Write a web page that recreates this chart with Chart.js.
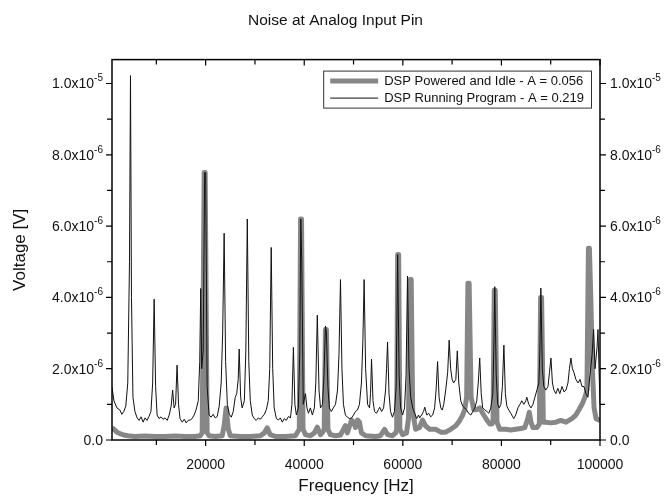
<!DOCTYPE html>
<html lang="en">
<head>
<meta charset="UTF-8">
<title>Noise at Analog Input Pin</title>
<script src="https://cdn.jsdelivr.net/npm/chart.js"></script>
<style>
  html, body { margin: 0; padding: 0; background: #fff; }
  #wrap { width: 671px; height: 497px; }
</style>
</head>
<body>
<div id="wrap"><canvas id="chart" width="671" height="497"></canvas></div>
<script>
// values: frequency in Hz, voltage in units of 1e-6 V
const idleFreq = [1000, 1400, 2000, 2600, 3400, 4200, 5650, 7700, 9750, 11750, 13800, 15850, 17850, 18900,
  19300, 19700, 19900, 20300, 20700, 21950, 23350, 23750, 24150, 24600, 25000, 27000, 29050, 31100, 31900,
  32500, 33100, 34150, 36150, 38200, 39000, 39250, 39450, 39750, 40250, 41250, 42050, 42650, 43300, 43900,
  44050, 44300, 44500, 44800, 45300, 46350, 47350, 47950, 48350, 48750, 49200, 49600, 50000, 50400, 50800,
  51200, 51600, 52450, 54450, 55450, 56300, 56900, 57900, 58550, 58750, 58950, 59150, 59400, 59950, 60750,
  61150, 61450, 61700, 62000, 62600, 63400, 64000, 64600, 65450, 66650, 67700, 68700, 69700, 70750, 71550,
  72150, 72550, 72950, 73200, 73450, 73850, 74400, 75000, 75600, 76200, 77050, 77650, 78050, 78300, 78550,
  78750, 79100, 79650, 80900, 81900, 82900, 83950, 84750, 85350, 85650, 86000, 86400, 87200, 87700, 87950,
  88150, 88500, 89000, 90050, 91050, 92050, 93100, 93700, 94300, 95100, 95700, 96350, 96950, 97350, 97650,
  97850, 98150, 98450, 98800, 99200, 100000];
const idleVolt = [0.34, 0.30, 0.22, 0.18, 0.14, 0.12, 0.10, 0.11, 0.10, 0.10, 0.11, 0.10, 0.10, 0.12,
  0.2, 7.5, 7.5, 0.2, 0.12, 0.10, 0.12, 0.4, 0.9, 0.3, 0.12, 0.10, 0.10, 0.12, 0.20,
  0.34, 0.15, 0.10, 0.10, 0.12, 0.3, 6.2, 6.2, 0.3, 0.15, 0.12, 0.2, 0.36, 0.15, 0.25,
  0.3, 3.1, 3.1, 0.3, 0.15, 0.12, 0.14, 0.3, 0.4, 0.2, 0.4, 0.56, 0.5, 0.35, 0.56,
  0.5, 0.2, 0.12, 0.10, 0.12, 0.3, 0.15, 0.12, 0.2, 0.3, 5.2, 5.2, 0.3, 0.15, 0.2,
  0.6, 4.5, 4.5, 0.8, 0.3, 0.35, 0.56, 0.4, 0.3, 0.3, 0.22, 0.22, 0.3, 0.4, 0.55,
  0.7, 0.85, 1.2, 4.4, 4.4, 1.2, 0.85, 0.85, 0.9, 0.75, 0.56, 0.45, 0.45, 0.5, 4.2,
  4.2, 0.5, 0.3, 0.3, 0.28, 0.3, 0.32, 0.35, 0.6, 0.78, 0.5, 0.35, 0.35, 0.45, 4.0,
  4.0, 0.5, 0.5, 0.48, 0.5, 0.55, 0.5, 0.55, 0.6, 0.7, 0.84, 1.0, 1.2, 1.4, 5.38,
  5.38, 3.9, 2.0, 0.9, 0.6, 0.55];

const runFreq = [1000, 1400, 2000, 2600, 3000, 3400, 3800, 4200, 4550, 4750, 4950, 5250, 5650, 6100, 6500,
  6900, 7300, 7700, 8100, 8500, 8900, 9250, 9550, 9850, 10150, 10550, 10950, 11350, 11750, 12200, 12600,
  13000, 13300, 13600, 13900, 14200, 14500, 14800, 15250, 15650, 16050, 16450, 16850, 17250, 17650, 18050,
  18500, 18800, 19000, 19200, 19500, 19800, 20000, 20300, 20700, 21100, 21500, 21950, 22350, 22750, 23150,
  23450, 23750, 24050, 24400, 24800, 25200, 25600, 26000, 26300, 26600, 26800, 27100, 27400, 27850, 28150,
  28450, 28750, 29050, 29450, 29850, 30250, 30700, 31100, 31500, 31900, 32300, 32700, 33000, 33300, 33600,
  33900, 34350, 34750, 35150, 35550, 35950, 36350, 36800, 37200, 37500, 37800, 38100, 38400, 38800, 39100,
  39300, 39500, 39800, 40250, 40550, 40850, 41250, 41650, 42050, 42350, 42650, 43000, 43300, 43700, 44000,
  44300, 44500, 44800, 45100, 45500, 45900, 46350, 46750, 47050, 47350, 47650, 47950, 48350, 48750, 49200,
  49600, 50000, 50400, 50800, 51200, 51600, 51900, 52150, 52450, 52850, 53250, 53450, 53650, 53950, 54250,
  54650, 55050, 55300, 55700, 56100, 56500, 56700, 56900, 57200, 57500, 57900, 58300, 58650, 58950, 59250,
  59550, 59950, 60350, 60650, 60950, 61250, 61600, 62000, 62400, 62800, 63200, 63400, 63800, 64200, 64450,
  64850, 65250, 65650, 66050, 66450, 66750, 67050, 67350, 67700, 68000, 68300, 68700, 69100, 69400, 69700,
  70000, 70300, 70750, 71050, 71350, 71750, 72150, 72550, 72950, 73350, 73800, 74200, 74600, 75000, 75300,
  75600, 75900, 76200, 76600, 77050, 77450, 77850, 78250, 78450, 78650, 78950, 79250, 79550, 79900, 80200,
  80500, 80800, 81100, 81500, 81900, 82300, 82500, 82900, 83350, 83750, 84150, 84550, 84950, 85150, 85550,
  86000, 86400, 86800, 87200, 87600, 87800, 88000, 88300, 88600, 89000, 89450, 89750, 90050, 90350, 90650,
  91050, 91450, 91850, 92300, 92700, 93100, 93500, 93800, 94100, 94400, 94700, 95100, 95550, 95950, 96350,
  96750, 97150, 97550, 97950, 98400, 98700, 99000, 99400, 99600, 99800, 100000];
const runVolt = [1.48, 1.1, 0.9, 0.84, 0.72, 0.8, 0.95, 1.6, 5.0, 10.22, 4.0, 1.2, 0.8, 0.62, 0.55,
  0.65, 0.5, 0.62, 0.55, 0.66, 0.8, 1.6, 3.95, 1.5, 0.7, 0.6, 0.65, 0.58, 0.62, 0.55, 0.7,
  0.95, 1.4, 0.9, 1.0, 2.1, 1.0, 0.6, 0.5, 0.58, 0.48, 0.55, 0.56, 0.6, 0.7, 0.84,
  1.1, 2.2, 4.25, 2.0, 2.5, 7.5, 7.5, 1.5, 0.7, 0.64, 0.72, 0.62, 0.66, 0.95, 1.6,
  3.0, 5.8, 2.2, 1.0, 0.72, 0.64, 0.8, 1.2, 1.3, 1.7, 2.55, 1.2, 0.9, 1.1, 2.5,
  6.2, 2.2, 1.1, 0.7, 0.6, 0.55, 0.62, 0.58, 0.65, 0.72, 0.85, 1.1, 2.0, 5.4, 2.0,
  0.9, 0.6, 0.56, 0.62, 0.5, 0.6, 0.55, 0.66, 0.62, 1.0, 2.6, 1.0, 0.7, 0.9, 2.5,
  6.2, 5.0, 1.0, 1.3, 0.9, 0.75, 0.9, 0.7, 0.9, 1.6, 3.5, 1.4, 0.9, 1.0, 1.8,
  3.2, 3.0, 1.5, 0.9, 0.8, 0.9, 1.0, 1.4, 2.4, 4.5, 2.0, 1.0, 0.7, 0.64, 0.6,
  0.62, 0.7, 0.8, 0.84, 1.0, 1.6, 2.8, 4.5, 2.0, 1.0, 0.9, 1.3, 2.27, 1.1, 0.8,
  0.75, 0.85, 0.92, 0.8, 0.9, 1.4, 2.0, 2.75, 1.3, 0.8, 0.64, 0.8, 1.5, 5.2, 1.8,
  0.9, 0.7, 0.9, 1.8, 4.6, 2.0, 1.2, 0.9, 0.75, 0.6, 0.7, 0.62, 0.7, 0.8, 0.92,
  0.7, 0.75, 0.65, 0.7, 0.9, 1.4, 2.2, 1.2, 0.9, 0.84, 1.0, 1.4, 1.9, 2.8, 2.0,
  1.7, 1.6, 1.7, 2.5, 1.6, 1.1, 0.95, 0.9, 0.84, 0.75, 0.7, 0.8, 0.9, 1.1, 1.6,
  2.3, 1.3, 0.9, 0.85, 0.8, 0.75, 0.9, 1.3, 2.5, 4.3, 1.8, 1.0, 0.9, 1.0, 1.5,
  2.66, 1.3, 0.95, 0.84, 0.75, 0.65, 0.6, 0.7, 0.9, 1.0, 1.1, 1.0, 1.1, 1.2, 1.0,
  0.9, 1.0, 1.2, 1.4, 1.6, 2.5, 4.26, 2.0, 1.5, 1.4, 1.5, 1.9, 2.3, 1.6, 1.4,
  1.3, 1.45, 1.3, 1.5, 1.35, 1.4, 1.6, 2.0, 2.3, 2.0, 1.9, 1.7, 1.6, 1.7, 1.5,
  1.5, 1.3, 1.2, 1.8, 2.4, 3.1, 2.0, 2.6, 3.1, 2.0, 1.0];

const seriesNames = ['DSP Powered and Idle - A = 0.056', 'DSP Running Program - A = 0.219'];

const xTickValues = [20000, 40000, 60000, 80000, 100000];
const xMinorValues = [10000, 30000, 50000, 70000, 90000];
const yTickValues = [0, 2, 4, 6, 8, 10];
// tick label = mantissa text followed by a raised exponent
const yTickBase = ['0.0', '2.0x10', '4.0x10', '6.0x10', '8.0x10', '1.0x10'];
const yTickExp = ['', '-6', '-6', '-6', '-6', '-5'];
const yMinorValues = [1, 3, 5, 7, 9];

const FONT = '"Liberation Sans", Arial, sans-serif';
const GRAY = '#878787';

function pairs(xs, ys) {
  return xs.map((x, i) => ({ x: x, y: ys[i] }));
}

// frame with ticks on all four sides, plus the y labels with superscripts
const framePlugin = {
  id: 'frame',
  afterDatasetsDraw(chart) {
    const { ctx, chartArea: a, scales } = chart;
    const x = scales.x, y = scales.y;
    ctx.save();
    ctx.strokeStyle = '#000';
    ctx.lineWidth = 1.5;
    ctx.strokeRect(a.left, a.top, a.right - a.left, a.bottom - a.top);
    ctx.lineWidth = 1.2;
    ctx.beginPath();
    const xt = (vals, len) => vals.forEach(v => {
      const p = x.getPixelForValue(v);
      ctx.moveTo(p, a.bottom); ctx.lineTo(p, a.bottom + len);
      ctx.moveTo(p, a.top); ctx.lineTo(p, a.top + len);
    });
    const yt = (vals, len) => vals.forEach(v => {
      const p = y.getPixelForValue(v);
      ctx.moveTo(a.left - len, p); ctx.lineTo(a.left, p);
      ctx.moveTo(a.right, p); ctx.lineTo(a.right + len, p);
    });
    xt(xTickValues, 6); xt(xMinorValues, 5);
    yt(yTickValues, 6); yt(yMinorValues, 5);
    ctx.stroke();

    ctx.fillStyle = '#111';
    ctx.textBaseline = 'alphabetic';
    yTickValues.forEach((v, i) => {
      const p = y.getPixelForValue(v) + 5;
      ctx.font = '14px ' + FONT;
      const bw = ctx.measureText(yTickBase[i]).width;
      ctx.font = '10px ' + FONT;
      const ew = yTickExp[i] ? ctx.measureText(yTickExp[i]).width : 0;
      // left side, right aligned
      let lx = a.left - 9 - ew - bw;
      ctx.font = '14px ' + FONT;
      ctx.fillText(yTickBase[i], lx, p);
      ctx.font = '10px ' + FONT;
      if (ew) ctx.fillText(yTickExp[i], lx + bw, p - 7);
      // right side, left aligned
      const rx = a.right + 10;
      ctx.font = '14px ' + FONT;
      ctx.fillText(yTickBase[i], rx, p);
      ctx.font = '10px ' + FONT;
      if (ew) ctx.fillText(yTickExp[i], rx + bw, p - 7);
    });
    ctx.restore();
  }
};

// boxed legend inside the plot, top right
const boxLegend = {
  id: 'boxLegend',
  afterDraw(chart) {
    const { ctx, chartArea: a } = chart;
    ctx.save();
    ctx.font = '13px ' + FONT;
    const ds = chart.data.datasets;
    const textW = Math.max(...ds.map(d => ctx.measureText(d.label).width));
    const sample = 48, gap = 6, pad = 7, row = 17;
    const w = pad + sample + gap + textW + pad;
    const h = row * ds.length + 3;
    const bx = a.right - 9 - w, by = a.top + 11;
    ctx.fillStyle = '#fff';
    ctx.fillRect(bx, by, w, h);
    ctx.strokeStyle = '#333';
    ctx.lineWidth = 1;
    ctx.strokeRect(bx + 0.5, by + 0.5, w, h);
    ds.forEach((d, i) => {
      const cy = by + 2 + row * i + row / 2;
      ctx.strokeStyle = d.borderColor;
      ctx.lineWidth = d.borderWidth;
      ctx.lineCap = 'butt';
      ctx.beginPath();
      ctx.moveTo(bx + pad, cy); ctx.lineTo(bx + pad + sample, cy);
      ctx.stroke();
      ctx.fillStyle = '#111';
      ctx.textBaseline = 'middle';
      ctx.fillText(d.label, bx + pad + sample + gap, cy);
    });
    ctx.restore();
  }
};

const tickFont = { family: FONT, size: 14 };
const titleFont = { family: FONT, size: 17 };

function yTicks(scale) {
  scale.ticks = yTickValues.map(v => ({ value: v }));
}

new Chart(document.getElementById('chart'), {
  type: 'line',
  data: {
    datasets: [
      {
        label: seriesNames[0],
        data: pairs(idleFreq, idleVolt),
        borderColor: GRAY,
        borderWidth: 5,
        borderJoinStyle: 'round',
        pointRadius: 0,
        tension: 0,
        order: 2
      },
      {
        label: seriesNames[1],
        data: pairs(runFreq, runVolt),
        borderColor: '#111',
        borderWidth: 1,
        pointRadius: 0,
        tension: 0,
        order: 1
      }
    ]
  },
  options: {
    responsive: false,
    animation: false,
    layout: { padding: 0 },
    plugins: {
      legend: { display: false },
      tooltip: { enabled: false },
      title: {
        display: true,
        text: 'Noise at Analog Input Pin',
        color: '#111',
        font: { family: FONT, size: 15.5, weight: 'normal' },
        padding: { top: 11, bottom: 30 }
      }
    },
    scales: {
      x: {
        type: 'linear',
        min: 1000,
        max: 100000,
        afterBuildTicks(scale) { scale.ticks = xTickValues.map(v => ({ value: v })); },
        afterFit(scale) { scale.height = 57; },
        grid: { display: false },
        border: { display: false },
        ticks: { font: tickFont, color: '#111', padding: 9, maxRotation: 0, autoSkip: false,
                 callback: v => String(v) },
        title: { display: true, text: 'Frequency [Hz]', color: '#111', font: titleFont, padding: 0 }
      },
      y: {
        position: 'left',
        min: 0,
        max: 10.67,
        afterBuildTicks: yTicks,
        afterFit(scale) { scale.width = 112; },
        grid: { display: false },
        border: { display: false },
        ticks: { display: false },
        title: { display: true, text: 'Voltage [V]', color: '#111', font: titleFont, padding: { top: 10, bottom: 0 } }
      },
      y2: {
        position: 'right',
        min: 0,
        max: 10.67,
        afterBuildTicks: yTicks,
        afterFit(scale) { scale.width = 71; },
        grid: { display: false },
        border: { display: false },
        ticks: { display: false }
      }
    }
  },
  plugins: [framePlugin, boxLegend]
});
</script>
</body>
</html>
